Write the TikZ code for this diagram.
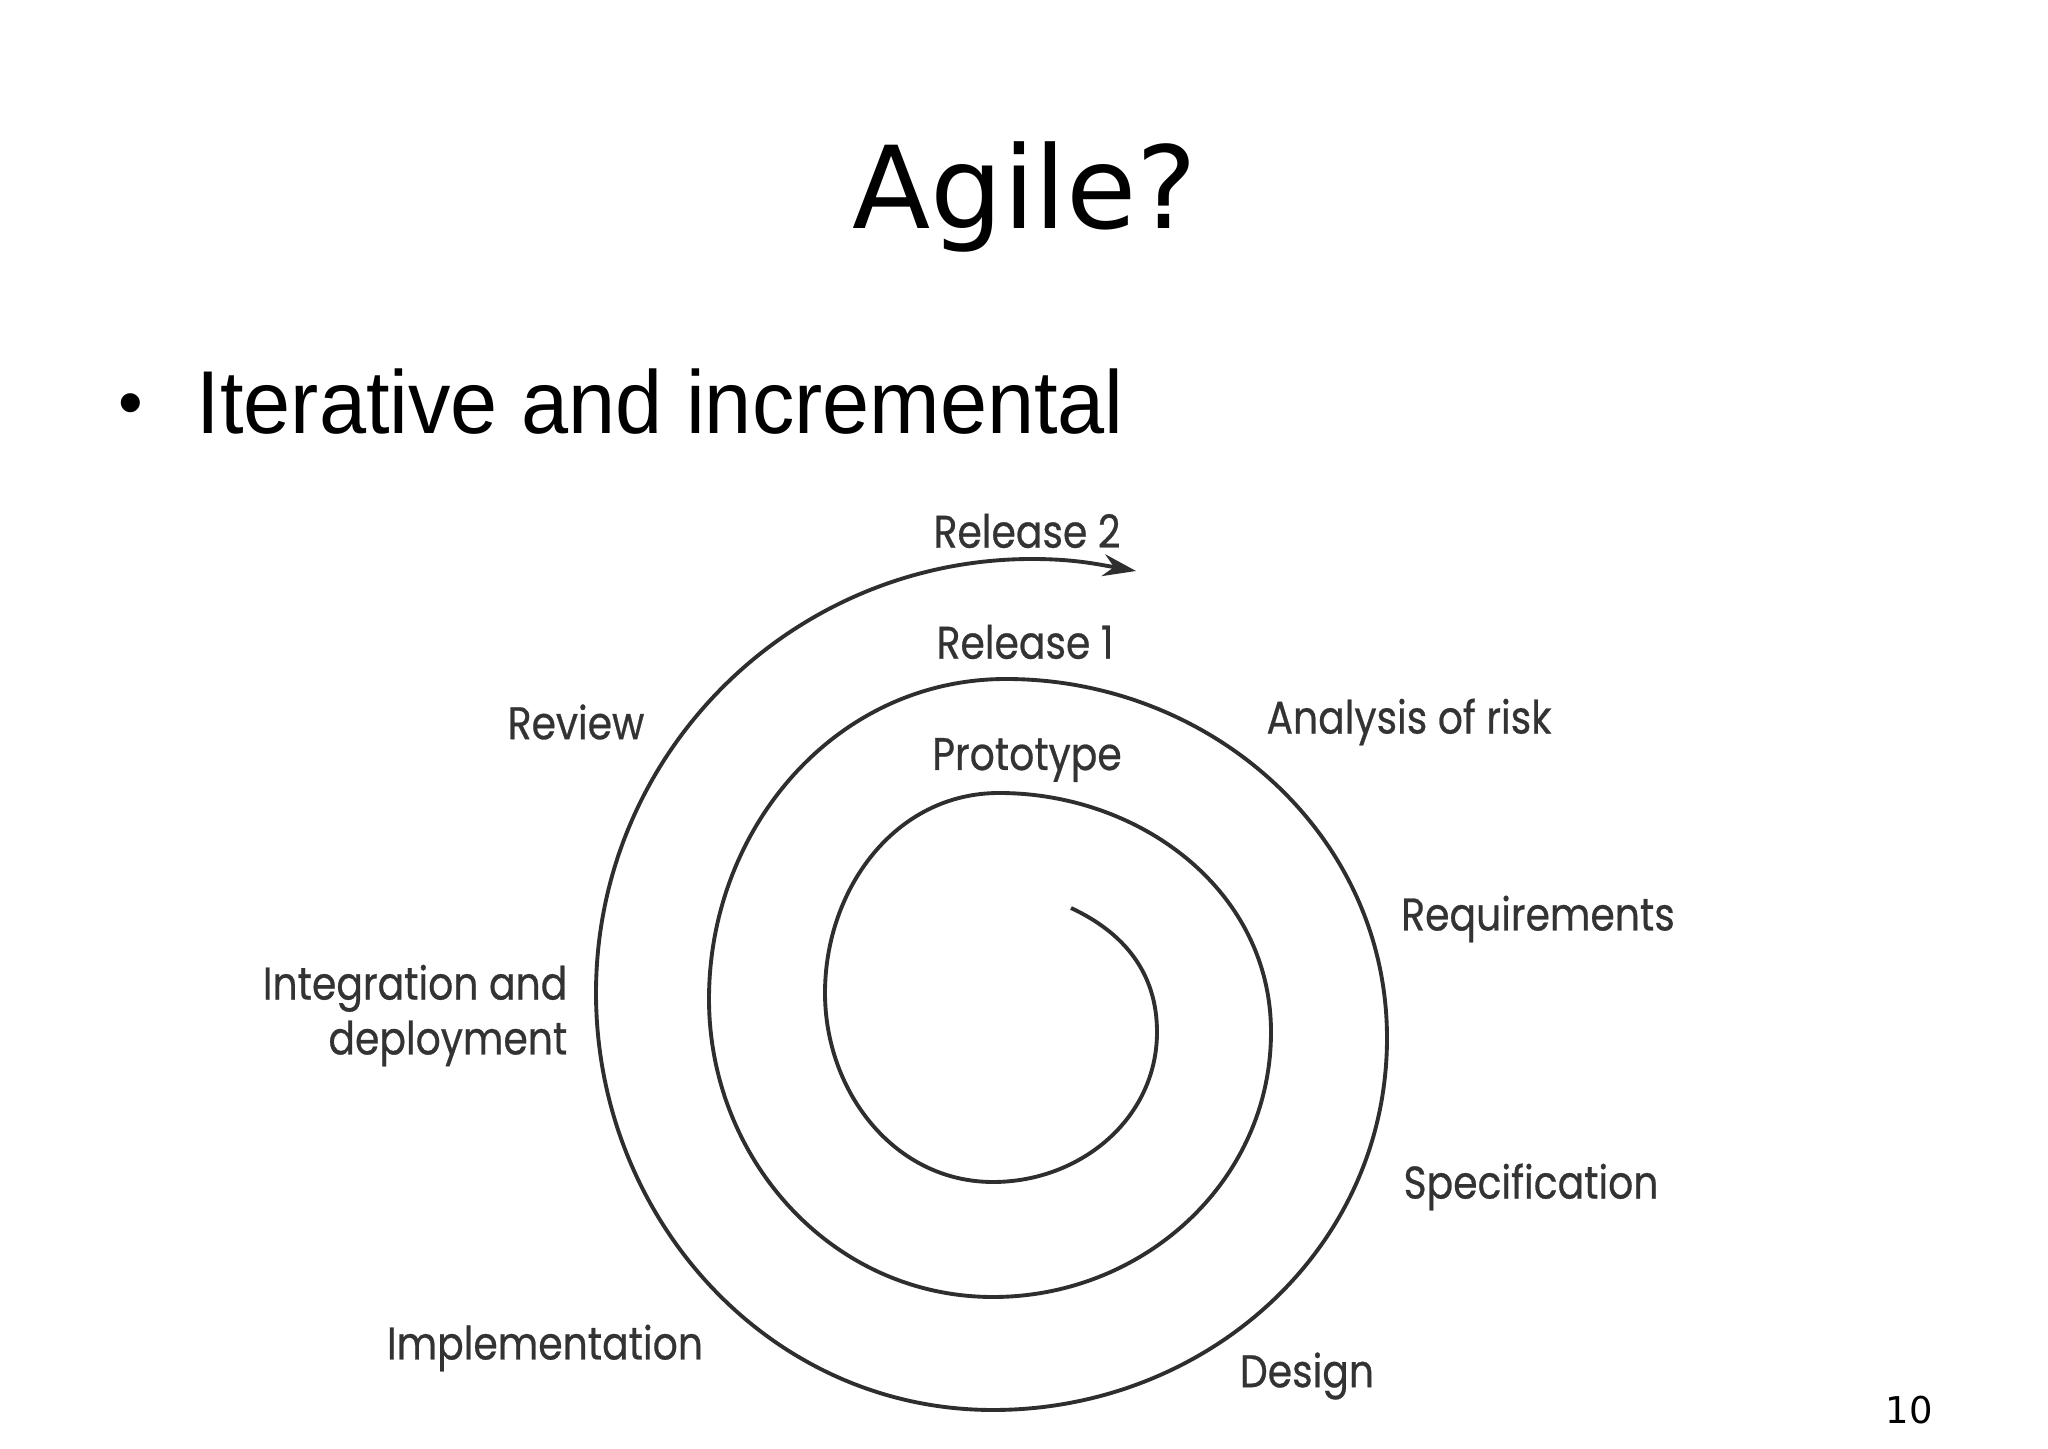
\documentclass[tikz,border=0pt]{standalone}
\usepackage{fontspec}
\usepackage{graphicx}
\setmainfont{DejaVu Sans}
\newfontfamily\bulletfont{Liberation Sans}
\newfontfamily\labelfont[FakeBold=0.6]{Poppins}
\usetikzlibrary{arrows.meta}
\definecolor{ink}{HTML}{2E2E2E}
\definecolor{lbl}{HTML}{333333}
\newcommand\narrowlab[1]{\scalebox{0.86}[1]{#1}}
\begin{document}
\begin{tikzpicture}[x=0.01cm,y=0.01cm,
  spiralline/.style={draw=ink,line width=1.1pt},
  lab/.style={text=lbl,inner sep=0pt,font=\labelfont\fontsize{13}{15.6}\selectfont},
  title/.style={inner sep=0pt,font=\fontsize{32.5}{38}\selectfont},
  bullettext/.style={inner sep=0pt,font=\bulletfont\fontsize{25.4}{30}\selectfont},
  bulletdot/.style={inner sep=0pt,font=\bulletfont\fontsize{20}{24}\selectfont},
  pagenum/.style={inner sep=0pt,font=\fontsize{10.5}{12}\selectfont}]
\useasboundingbox (0,0) rectangle (2048,1448);
\fill[white] (0,0) rectangle (2048,1448);

% title and bullet
\node[title,anchor=base] (title) at (1025,1219) {Agile?};
\node[bulletdot,anchor=base] (dot) at (131,1021) {•};
\node[bullettext,anchor=base west] (bullet) at (196,1014) {\scalebox{0.948}[1]{Iterative and incremental}};
\node[pagenum] (page) at (1909,38) {10};

% spiral
\coordinate (S0) at (1071,540);
\coordinate (P1) at (1157,416);
\coordinate (P2) at (993,266);
\coordinate (P3) at (825,455);
\coordinate (P4) at (999,655);
\coordinate (P5) at (1271,416);
\coordinate (P6) at (993,151);
\coordinate (P7) at (709,449);
\coordinate (P8) at (1006,769);
\coordinate (P9) at (1387,410);
\coordinate (P10) at (993,38);
\coordinate (P11) at (596,455);
\coordinate (P12) at (1032,889);
\coordinate (E) at (1136,877);
\draw[spiralline,-{Stealth[length=0.33cm,width=0.22cm]}]
  (S0) to[out=-25,in=90] (P1) to[out=-90,in=0] (P2)
  to[out=180,in=-90] (P3) to[out=90,in=180] (P4)
  to[out=0,in=90] (P5) to[out=-90,in=0] (P6)
  to[out=180,in=-90] (P7) to[out=90,in=180] (P8)
  to[out=0,in=90] (P9) to[out=-90,in=0] (P10)
  to[out=180,in=-90] (P11) to[out=90,in=180] (P12)
  to[out=0,in=170] (E);

% labels
\node[lab] (rel2) at (1027,917) {\narrowlab{Release 2}};
\node[lab] (rel1) at (1025,806) {\narrowlab{Release 1}};
\node[lab] (proto) at (1027,688) {\narrowlab{Prototype}};
\node[lab] (review) at (576,726) {\narrowlab{Review}};
\node[lab] (risk) at (1409,726) {\narrowlab{Analysis of risk}};
\node[lab] (req) at (1538,529) {\narrowlab{Requirements}};
\node[lab,anchor=east] (integ) at (568,432) {\narrowlab{\begin{tabular}{@{}r@{}}Integration and\\deployment\end{tabular}}};
\node[lab] (spec) at (1531,261) {\narrowlab{Specification}};
\node[lab] (impl) at (545,100) {\narrowlab{Implementation}};
\node[lab] (design) at (1307,72) {\narrowlab{Design}};
\end{tikzpicture}
\end{document}
